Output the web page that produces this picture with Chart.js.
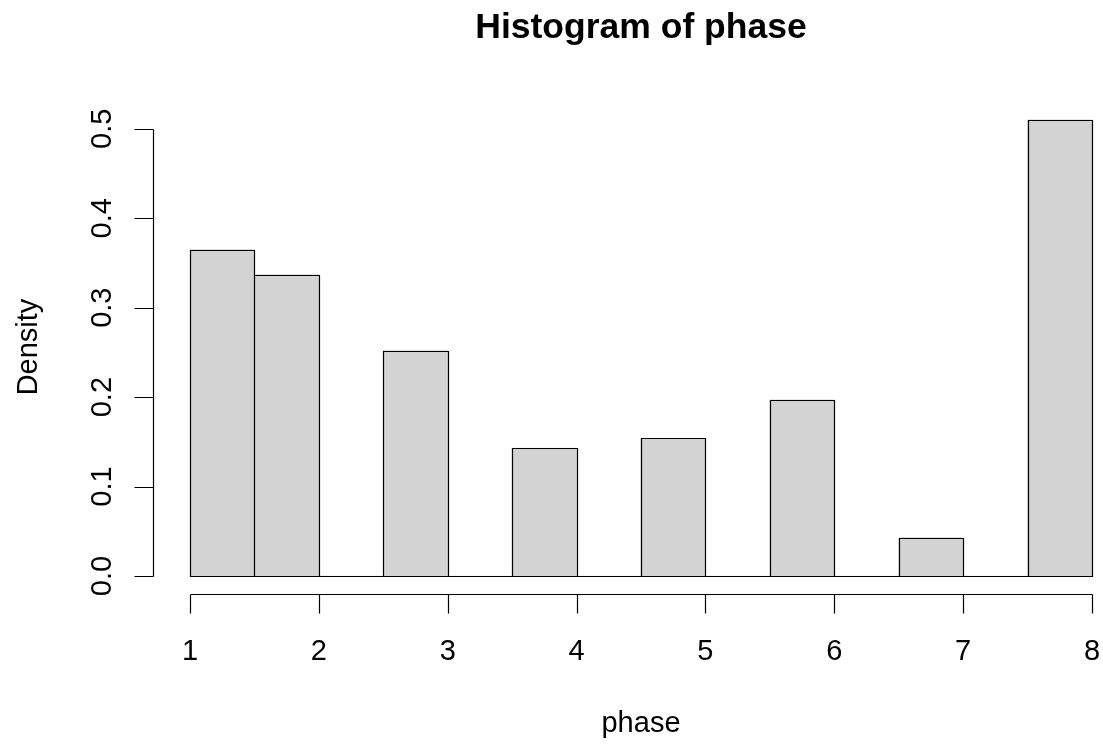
<!DOCTYPE html>
<html>
<head>
<meta charset="utf-8">
<title>Histogram of phase</title>
<script src="https://cdn.jsdelivr.net/npm/chart.js@4/dist/chart.umd.min.js"></script>
<style>
  body { margin: 0; background: #fff; }
  canvas { display: block; }
</style>
</head>
<body>
<canvas id="histChart" width="1103" height="744"></canvas>
<script>
// histogram bins (width 0.5) and their densities
const binStarts = [1, 1.5, 2, 2.5, 3, 3.5, 4, 4.5, 5, 5.5, 6, 6.5, 7, 7.5];
const densities = [0.365, 0.337, 0, 0.252, 0, 0.143, 0, 0.154, 0, 0.197, 0, 0.043, 0, 0.510];
const xTicks = [1, 2, 3, 4, 5, 6, 7, 8];
const yTicks = [0, 0.1, 0.2, 0.3, 0.4, 0.5];
const binWidth = 0.5;

const font = '"Liberation Sans", Arial, Helvetica, sans-serif';

// R-style axes, outlines and labels drawn from the chart's scales
const rStyle = {
    id: 'rStyle',
    afterDatasetsDraw(chart) {
        const ctx = chart.ctx;
        const xs = chart.scales.x;
        const ys = chart.scales.y;
        const px = v => Math.round(xs.getPixelForValue(v)) + 0.5;
        const py = v => Math.round(ys.getPixelForValue(v)) + 0.5;
        ctx.save();
        ctx.strokeStyle = '#000';
        ctx.lineWidth = 1.2;

        // bar outlines
        ctx.beginPath();
        binStarts.forEach((b, i) => {
            const l = px(b), r = px(b + binWidth);
            const t = py(densities[i]), bot = py(0);
            ctx.rect(l, t, r - l, bot - t);
        });
        ctx.stroke();

        // y axis
        const yAxisX = 153.5;
        ctx.beginPath();
        ctx.moveTo(yAxisX, py(yTicks[0]));
        ctx.lineTo(yAxisX, py(yTicks[yTicks.length - 1]));
        yTicks.forEach(t => {
            ctx.moveTo(yAxisX, py(t));
            ctx.lineTo(yAxisX - 19, py(t));
        });
        ctx.stroke();

        // x axis
        const xAxisY = 594.5;
        ctx.beginPath();
        ctx.moveTo(px(xTicks[0]), xAxisY);
        ctx.lineTo(px(xTicks[xTicks.length - 1]), xAxisY);
        xTicks.forEach(t => {
            ctx.moveTo(px(t), xAxisY);
            ctx.lineTo(px(t), xAxisY + 19);
        });
        ctx.stroke();

        ctx.fillStyle = '#000';
        ctx.font = '29px ' + font;
        ctx.textAlign = 'center';
        ctx.textBaseline = 'alphabetic';
        xTicks.forEach(t => ctx.fillText(String(t), xs.getPixelForValue(t), 660));

        yTicks.forEach(t => {
            ctx.save();
            ctx.translate(111, ys.getPixelForValue(t));
            ctx.rotate(-Math.PI / 2);
            ctx.fillText(t.toFixed(1), 0, 0);
            ctx.restore();
        });

        // axis titles
        const midX = (xs.left + xs.right) / 2;
        ctx.fillText('phase', midX, 732);
        ctx.save();
        ctx.translate(37, 347);
        ctx.rotate(-Math.PI / 2);
        ctx.fillText('Density', 0, 0);
        ctx.restore();

        // main title
        ctx.font = 'bold 35.5px ' + font;
        ctx.fillText('Histogram of phase', midX, 38);
        ctx.restore();
    }
};

const histChart = new Chart(document.getElementById('histChart').getContext('2d'), {
    type: 'bar',
    data: {
        datasets: [{
            label: 'phase',
            data: binStarts.map((b, i) => ({ x: b + binWidth / 2, y: densities[i] })),
            backgroundColor: '#d3d3d3',
            borderWidth: 0,
            barPercentage: 1,
            categoryPercentage: 1
        }]
    },
    options: {
        responsive: false,
        animation: false,
        layout: { padding: { left: 190, right: 11, top: 102, bottom: 168 } },
        plugins: {
            legend: { display: false },
            title: { display: false },
            tooltip: { enabled: false }
        },
        scales: {
            x: { type: 'linear', min: 1, max: 8, offset: false, display: false },
            y: { min: 0, max: 0.53, display: false }
        }
    },
    plugins: [rStyle]
});
</script>
</body>
</html>
